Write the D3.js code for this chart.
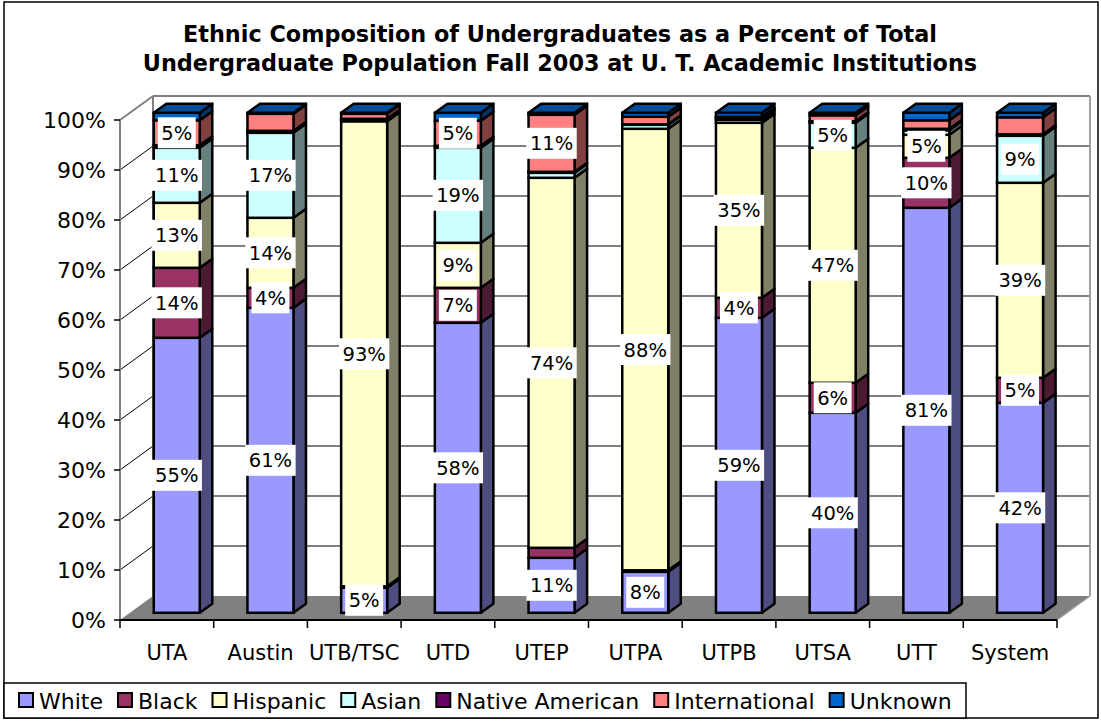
<!DOCTYPE html>
<html>
<head>
<meta charset="utf-8">
<script src="https://cdn.jsdelivr.net/npm/d3@7"></script>
<style>
  body { margin: 0; background: #fff; }
  svg { display: block; font-family: "DejaVu Sans", sans-serif; }
</style>
</head>
<body>
<svg id="chart"></svg>
<script>
const width = 1101, height = 721;

const categories = ['UTA', 'Austin', 'UTB/TSC', 'UTD', 'UTEP', 'UTPA', 'UTPB', 'UTSA', 'UTT', 'System'];
const seriesNames = ['White', 'Black', 'Hispanic', 'Asian', 'Native American', 'International', 'Unknown'];
const seriesColors = ['#9999FF', '#993366', '#FFFFCC', '#CCFFFF', '#660066', '#FF8080', '#0066CC'];

// percent of undergraduates, one array per ethnic group
const white          = [55, 61, 5, 58, 11, 8.2, 59, 40, 81, 42];
const black          = [14, 4, 0.3, 7, 2, 0.3, 4, 6, 10, 5];
const hispanic       = [13, 14, 93, 9, 74, 88.3, 35, 47, 4.6, 39];
const asian          = [11, 17, 0.4, 19, 1, 0.8, 0.6, 5, 0.9, 9.4];
const nativeAmerican = [0.5, 0.4, 0.1, 0.4, 0.2, 0.1, 0.3, 0.3, 0.3, 0.3];
const international  = [5, 3.4, 1, 5, 11.4, 1.5, 0.3, 1.2, 1.7, 3.4];
const unknown        = [1.5, 0.2, 0.2, 1.6, 0.4, 0.8, 0.8, 0.5, 1.5, 0.9];
const yTicks = [0, 10, 20, 30, 40, 50, 60, 70, 80, 90, 100];

const titleLines = ['Ethnic Composition of Undergraduates as a Percent of Total',
                    'Undergraduate Population Fall 2003 at U. T. Academic Institutions'];

const seriesValues = [white, black, hispanic, asian, nativeAmerican, international, unknown];

const svg = d3.select('#chart')
  .attr('width', width)
  .attr('height', height)
  .attr('viewBox', [0, 0, width, height]);

// front plane of the 3d box
const x = d3.scaleBand().domain(categories).range([120, 1057]);
const y = d3.scaleLinear().domain([0, 100]).range([620, 120]);
const depth = {dx: 33, dy: -24};
const f0 = 0.3, f1 = 0.68;   // bar front/back as fraction of depth
const barW = 46;

// outer border
svg.append('rect')
  .attr('x', 4).attr('y', 2).attr('width', 1094).attr('height', 716)
  .attr('fill', '#fff').attr('stroke', '#000').attr('stroke-width', 1.5);

// title
const title = svg.append('g').attr('class', 'title');
titleLines.forEach((t, i) => {
  title.append('text')
    .attr('x', 560).attr('y', 42 + i * 29)
    .attr('text-anchor', 'middle')
    .attr('font-weight', 'bold')
    .attr('font-size', 20)
    .attr('fill', '#000')
    .text(t);
});
// scale title to the width it has in the original
const tl = title.selectAll('text').nodes()[1].getComputedTextLength();
title.selectAll('text').attr('font-size', 20 * 835 / tl);

// walls and floor
const walls = svg.append('g');
const x0 = x.range()[0], x1 = x.range()[1];
walls.append('polygon')
  .attr('points', [[x0, y(0)], [x1, y(0)], [x1 + depth.dx, y(0) + depth.dy], [x0 + depth.dx, y(0) + depth.dy]].join(' '))
  .attr('fill', '#808080');

// back wall gridlines
walls.selectAll('.grid')
  .data(yTicks.slice(1))
  .join('line')
  .attr('x1', x0 + depth.dx).attr('x2', x1 + depth.dx)
  .attr('y1', d => y(d) + depth.dy).attr('y2', d => y(d) + depth.dy)
  .attr('stroke', '#808080').attr('stroke-width', 2);

// left wall diagonals
walls.selectAll('.diag')
  .data(yTicks.slice(1))
  .join('line')
  .attr('x1', x0).attr('x2', x0 + depth.dx)
  .attr('y1', d => y(d)).attr('y2', d => y(d) + depth.dy)
  .attr('stroke', d => d === 100 ? '#808080' : '#000')
  .attr('stroke-width', d => d === 100 ? 2 : 1);

// wall edges
walls.append('line')
  .attr('x1', x0 + depth.dx).attr('x2', x0 + depth.dx)
  .attr('y1', y(0) + depth.dy).attr('y2', y(100) + depth.dy)
  .attr('stroke', '#808080').attr('stroke-width', 2);
walls.append('line')
  .attr('x1', x1 + depth.dx).attr('x2', x1 + depth.dx)
  .attr('y1', y(0) + depth.dy).attr('y2', y(100) + depth.dy)
  .attr('stroke', '#a0a0a0').attr('stroke-width', 2);
walls.append('line')
  .attr('x1', x1).attr('x2', x1 + depth.dx)
  .attr('y1', y(0)).attr('y2', y(0) + depth.dy)
  .attr('stroke', '#a0a0a0').attr('stroke-width', 1.5);

// y axis
walls.append('line')
  .attr('x1', x0).attr('x2', x0)
  .attr('y1', y(0)).attr('y2', y(100))
  .attr('stroke', '#808080').attr('stroke-width', 2);
const yAxis = svg.append('g');
yAxis.selectAll('line')
  .data(yTicks)
  .join('line')
  .attr('x1', x0 - 6).attr('x2', x0)
  .attr('y1', d => y(d)).attr('y2', d => y(d))
  .attr('stroke', '#000').attr('stroke-width', 1.5);
yAxis.selectAll('text')
  .data(yTicks)
  .join('text')
  .attr('x', 106).attr('y', d => y(d))
  .attr('dy', '0.36em')
  .attr('text-anchor', 'end')
  .attr('font-size', 22)
  .attr('fill', '#000')
  .text(d => d + '%');

// x axis
const xAxis = svg.append('g');
xAxis.append('line')
  .attr('x1', x0).attr('x2', x1)
  .attr('y1', y(0)).attr('y2', y(0))
  .attr('stroke', '#000').attr('stroke-width', 2);
xAxis.selectAll('.tick')
  .data(categories.concat(['end']))
  .join('line')
  .attr('x1', (d, i) => x0 + i * x.bandwidth())
  .attr('x2', (d, i) => x0 + i * x.bandwidth())
  .attr('y1', y(0)).attr('y2', y(0) + 8)
  .attr('stroke', '#000').attr('stroke-width', 1.5);
xAxis.selectAll('text')
  .data(categories)
  .join('text')
  .attr('x', d => x(d) + x.bandwidth() / 2)
  .attr('y', 660)
  .attr('text-anchor', 'middle')
  .attr('font-size', 21)
  .attr('fill', '#000')
  .text(d => d);

// bars
function shade(c, k) {
  const r = d3.rgb(c);
  return d3.rgb(r.r * k, r.g * k, r.b * k).formatHex();
}
const fx = f0 * depth.dx, fy = f0 * depth.dy;
const bx = (f1 - f0) * depth.dx, by = (f1 - f0) * depth.dy;

const bars = svg.append('g');
const labels = [];
categories.forEach((cat, ci) => {
  const left = x(cat) + (x.bandwidth() - barW) / 2 + fx;
  const right = left + barW;
  let cum = 0;
  seriesValues.forEach((vals, si) => {
    const v = vals[ci];
    const yb = y(cum) + fy;
    const yt = y(cum + v) + fy;
    const col = seriesColors[si];
    const g = bars.append('g');
    g.append('polygon')
      .attr('points', [[right, yb], [right + bx, yb + by], [right + bx, yt + by], [right, yt]].join(' '))
      .attr('fill', shade(col, 0.5))
      .attr('stroke', '#000').attr('stroke-width', 2.5).attr('stroke-linejoin', 'round');
    g.append('rect')
      .attr('x', left).attr('y', yt)
      .attr('width', barW).attr('height', yb - yt)
      .attr('fill', col)
      .attr('stroke', '#000').attr('stroke-width', 2.5);
    if (si === seriesValues.length - 1) {
      g.append('polygon')
        .attr('points', [[left, yt], [left + bx, yt + by], [right + bx, yt + by], [right, yt]].join(' '))
        .attr('fill', shade(col, 0.75))
        .attr('stroke', '#000').attr('stroke-width', 2.5).attr('stroke-linejoin', 'round');
    }
    if (v >= 3.5) {
      labels.push({x: (left + right) / 2, y: (yb + yt) / 2, text: Math.round(v) + '%'});
    }
    cum += v;
  });
});

// data labels
const lab = svg.append('g').selectAll('g')
  .data(labels)
  .join('g')
  .attr('transform', d => `translate(${d.x},${d.y})`);
lab.append('rect').attr('fill', '#fff');
lab.append('text')
  .attr('text-anchor', 'middle')
  .attr('dy', '0.36em')
  .attr('font-size', 19.5)
  .attr('fill', '#000')
  .text(d => d.text);
lab.each(function () {
  const g = d3.select(this);
  const w = g.select('text').node().getComputedTextLength() + 7;
  g.select('rect').attr('x', -w / 2).attr('y', -15.5).attr('width', w).attr('height', 31);
});

// legend
const legend = svg.append('g');
legend.append('rect')
  .attr('x', 4).attr('y', 683).attr('width', 962).attr('height', 35)
  .attr('fill', '#fff').attr('stroke', '#000').attr('stroke-width', 1.5);
let lx = 19;
seriesNames.forEach((name, i) => {
  legend.append('rect')
    .attr('x', lx).attr('y', 693).attr('width', 14).attr('height', 14)
    .attr('fill', seriesColors[i])
    .attr('stroke', '#000').attr('stroke-width', 2);
  const t = legend.append('text')
    .attr('x', lx + 20).attr('y', 709)
    .attr('font-size', 22)
    .attr('fill', '#000')
    .text(name);
  lx += 20 + t.node().getComputedTextLength() + 15;
});
</script>
</body>
</html>
